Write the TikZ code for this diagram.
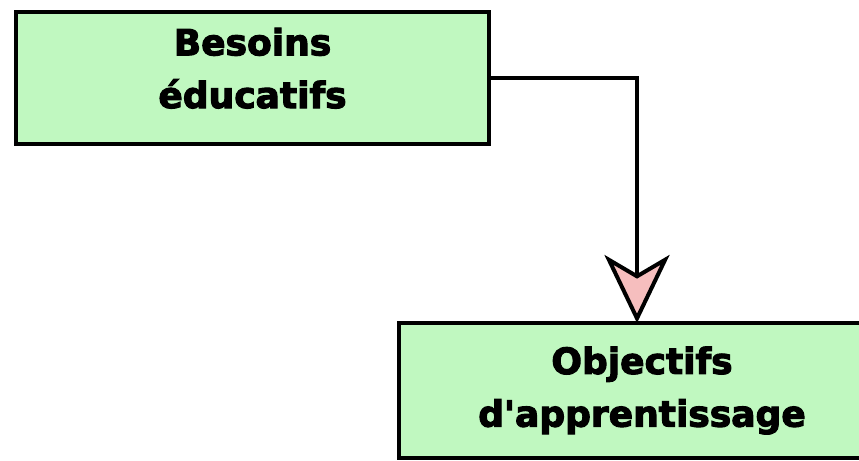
\documentclass[tikz,border=0pt]{standalone}
\usepackage{fontspec}
\newfontfamily\boxfont{DejaVu Sans}[BoldFeatures={FakeBold=3}]
\usepackage{tikz}
\usetikzlibrary{arrows.meta, positioning}
\usepackage{xcolor}
\definecolor{boxgreen}{RGB}{192,248,192}
\definecolor{tippink}{RGB}{246,190,190}

\tikzset{
    greenbox/.style={draw=black, fill=boxgreen, line width=0.09cm, rectangle,
        align=center, font=\boxfont\bfseries\fontsize{20.5}{30}\selectfont},
    flow/.style={line width=0.08cm,
        -{Stealth[length=1.36cm, width=1.3cm, inset=0.38cm, fill=tippink]}}
}

\begin{document}
\begin{tikzpicture}
    \useasboundingbox (0, 0) rectangle (17.18, 9.2);

    % --- Boites ---
    \node[greenbox, minimum width=9.46cm, minimum height=2.64cm, text depth=0.4cm]
        (besoins) at (5.05, 7.64) {Besoins\\éducatifs};
    % la boite du bas sort de l'image a droite
    \node[greenbox, draw=none, outer sep=0pt, minimum width=9.72cm, minimum height=2.7cm]
        (objectifs) at (12.84, 1.39) {Objectifs\\d'apprentissage};
    \draw[line width=0.09cm] (objectifs.north east) -- (objectifs.north west)
        -- (objectifs.south west) -- (objectifs.south east);
    \coordinate (drop) at (12.74, 0);

    % --- Fleche ---
    \draw[flow] (besoins.east) -| (drop |- objectifs.north);
\end{tikzpicture}
\end{document}
